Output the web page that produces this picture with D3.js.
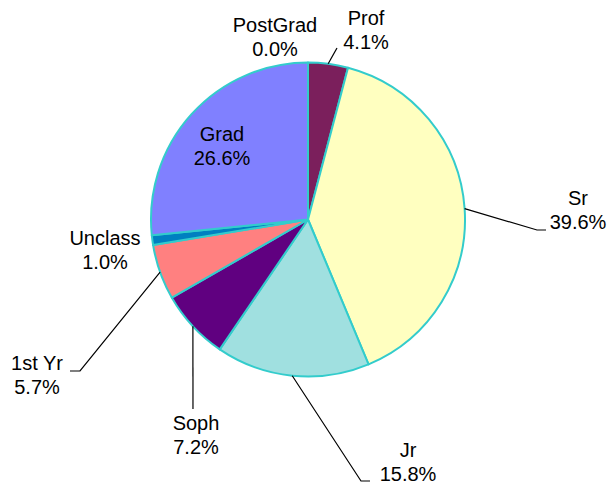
<!DOCTYPE html>
<html>
<head>
<meta charset="utf-8">
<title>Class standing</title>
<script src="https://cdn.jsdelivr.net/npm/d3@7"></script>
<style>
body{
  margin:0;
  background:#fff}

svg{
  display:block}

.slice path{
  stroke:#33cccc;
  stroke-width:2;
  stroke-linejoin:round}

.leader{
  fill:none;
  stroke:#000;
  stroke-width:1.2}
</style>
</head>
<body>
<script>
// Data, clockwise from 12 o'clock
const categories = ['Prof', 'Sr', 'Jr', 'Soph', '1st Yr', 'Unclass', 'Grad', 'PostGrad']
const percents = [4.1, 39.6, 15.8, 7.2, 5.7, 1.0, 26.6, 0.0]
const colors = ['#7b1f5c', '#ffffc0', '#a0e0e0', '#600080', '#ff8080', '#0080c0', '#8080ff', '#ffffff']

// Label placement: centre x, baseline of first line, and leader bend points
const labelPos = {
  'Prof':     { x: 366, y: 25,  leader: [[337, 48]] },
  'Sr':       { x: 578, y: 205, leader: [[537, 230], [546, 230]] },
  'Jr':       { x: 408, y: 457, leader: [[361, 481], [370, 481]] },
  'Soph':     { x: 196, y: 430, leader: [[193, 409]] },
  '1st Yr':   { x: 37,  y: 370, leader: [[80, 371], [70, 371]] },
  'Unclass':  { x: 105, y: 245, leader: null },
  'Grad':     { x: 222, y: 141, leader: null },
  'PostGrad': { x: 275, y: 32,  leader: null }
}

const width = 613
const height = 487
const cx = 308
const cy = 219.5
const radius = 157
const lineGap = 24

const svg = d3.select('body')
  .append('svg')
    .attr('width', width)
    .attr('height', height)

const data = categories.map((c, i) => ({ name: c, value: percents[i], color: colors[i] }))

const pie = d3.pie()
  .sort(null)
  .value(d => d.value)

const arc = d3.arc()
  .innerRadius(0)
  .outerRadius(radius)

const edge = d3.arc()
  .innerRadius(radius)
  .outerRadius(radius)

const arcs = pie(data)

const g = svg.append('g')
    .attr('transform', `translate(${cx}, ${cy})`)

// Draw slices
g.selectAll('.slice')
  .data(arcs.filter(d => d.data.value > 0))
  .enter().append('g')
    .attr('class', 'slice')
  .append('path')
    .attr('d', arc)
    .style('fill', d => d.data.color)

// Leader lines
const line = d3.line()
arcs.forEach(d => {
  const p = labelPos[d.data.name]
  if (!p.leader) return
  const start = edge.centroid(d)
  const pts = [[start[0] + cx, start[1] + cy]].concat(p.leader)
  svg.append('path')
      .attr('class', 'leader')
      .attr('d', line(pts))
})

// Labels
const fmt = d3.format('.1f')
arcs.forEach(d => {
  const p = labelPos[d.data.name]
  const t = svg.append('text')
      .attr('x', p.x)
      .attr('y', p.y)
      .attr('font-family', 'Liberation Sans, Arial, sans-serif')
      .attr('font-size', 20)
      .attr('fill', '#000')
      .style('text-anchor', 'middle')
  t.append('tspan')
      .attr('x', p.x)
      .text(d.data.name)
  t.append('tspan')
      .attr('x', p.x)
      .attr('dy', lineGap)
      .text(fmt(d.data.value) + '%')
})
</script>
</body>
</html>
